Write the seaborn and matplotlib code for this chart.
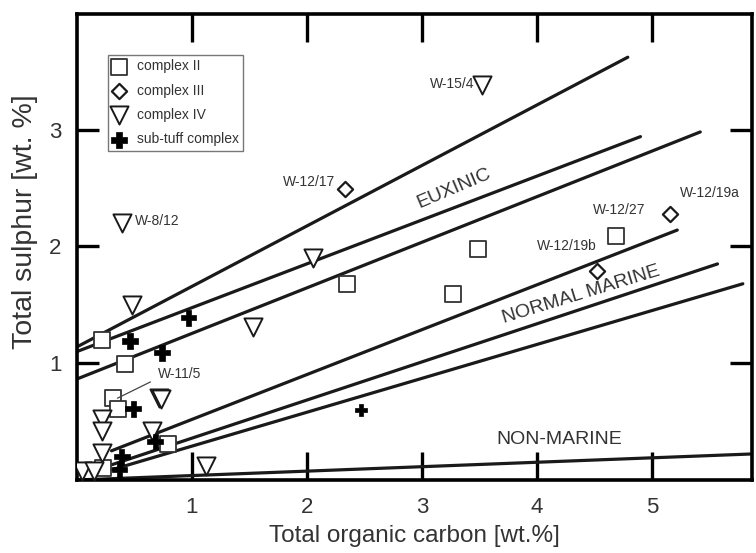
import numpy as np
import pandas as pd
import matplotlib
matplotlib.use("Agg")
import matplotlib.pyplot as plt
import seaborn as sns

# ---------------- data ----------------
c2_x = [0.22, 0.42, 0.31, 0.36, 0.23, 0.79, 2.35, 3.49, 3.27, 4.69]
c2_y = [1.20, 0.99, 0.70, 0.61, 0.10, 0.31, 1.68, 1.98, 1.59, 2.09]

c3_x = [2.33, 5.16, 4.52]
c3_y = [2.49, 2.28, 1.79]

c4_x = [3.52, 0.39, 0.48, 2.05, 1.53, 0.71, 0.73, 0.22, 0.22, 0.22, 0.65, 0.04, 0.15, 1.12]
c4_y = [3.38, 2.20, 1.50, 1.90, 1.31, 0.70, 0.69, 0.52, 0.42, 0.23, 0.42, 0.08, 0.08, 0.12]

st_x = [0.46, 0.74, 0.97, 0.49, 0.39, 0.37, 0.68, 2.47]
st_y = [1.19, 1.09, 1.39, 0.61, 0.20, 0.09, 0.33, 0.60]
st_s = [130, 130, 130, 130, 130, 130, 130, 80]

line_id = ["L1", "L2", "L3", "L4", "L5", "L6", "L7"]
line_x0 = [0.0, 0.0, 0.0, 0.3, 0.3, 0.3, 0.0]
line_y0 = [1.14, 1.10, 0.865, 0.25, 0.13, 0.087, 0.0]
line_x1 = [4.79, 4.90, 5.42, 5.22, 5.57, 5.79, 5.87]
line_y1 = [3.62, 2.94, 2.98, 2.14, 1.85, 1.68, 0.223]

sample_labels = ["W-15/4", "W-12/17", "W-12/19a", "W-12/27", "W-12/19b", "W-8/12", "W-11/5"]
sample_lx = [3.07, 1.79, 5.24, 4.49, 4.00, 0.50, 0.70]
sample_ly = [3.39, 2.55, 2.46, 2.31, 2.00, 2.22, 0.91]

field_labels = ["EUXINIC", "NORMAL MARINE", "NON-MARINE"]
field_x = [3.28, 4.38, 4.19]
field_y = [2.50, 1.59, 0.35]
field_rot = [23, 17, 0]

x_ticks = [1, 2, 3, 4, 5]
y_ticks = [1, 2, 3]

# ---------------- style ----------------
sns.set_style("ticks")
plt.rcParams["font.family"] = ["Liberation Sans", "DejaVu Sans"]
TXT = "#333333"

fig = plt.figure(figsize=(7.56, 5.53), dpi=100)
ax = fig.add_axes([77 / 756, 1 - 480 / 553, 675 / 756, 466 / 553])

# lines
rows = []
for i, lid in enumerate(line_id):
    rows.append({"line": lid, "x": line_x0[i], "y": line_y0[i]})
    rows.append({"line": lid, "x": line_x1[i], "y": line_y1[i]})
ldf = pd.DataFrame(rows)
sns.lineplot(data=ldf, x="x", y="y", units="line", estimator=None,
             color="#1a1a1a", linewidth=2.3, ax=ax, legend=False, sort=False)

# points
sns.scatterplot(x=c2_x, y=c2_y, marker="s", s=120, color="white",
                edgecolor="#333333", linewidth=1.3, ax=ax, label="complex II", zorder=3)
sns.scatterplot(x=c3_x, y=c3_y, marker="D", s=60, color="white",
                edgecolor="#1a1a1a", linewidth=1.6, ax=ax, label="complex III", zorder=3)
sns.scatterplot(x=c4_x, y=c4_y, marker="v", s=170, color="white",
                edgecolor="#1a1a1a", linewidth=1.4, ax=ax, label="complex IV", zorder=3)
sns.scatterplot(x=st_x, y=st_y, marker="P", s=st_s, color="black",
                edgecolor="black", linewidth=0.5, ax=ax, label="sub-tuff complex", zorder=4)

# sample labels
for t, x, y in zip(sample_labels, sample_lx, sample_ly):
    ax.text(x, y, t, fontsize=10, color=TXT, ha="left", va="center")
ax.annotate("", xy=(0.33, 0.69), xytext=(0.66, 0.85),
            arrowprops=dict(arrowstyle="-", lw=0.9, color="#444444"))

# field labels
for t, x, y, r in zip(field_labels, field_x, field_y, field_rot):
    ax.text(x, y, t, fontsize=14, color=TXT, ha="center", va="center",
            rotation=r, rotation_mode="anchor")

# axes
ax.set_xlim(0, 5.87)
ax.set_ylim(0, 3.99)
ax.set_xticks(x_ticks)
ax.set_yticks(y_ticks)
ax.set_xticklabels([str(v) for v in x_ticks])
ax.set_yticklabels([str(v) for v in y_ticks])
for sp in ax.spines.values():
    sp.set_visible(True)
    sp.set_linewidth(2.6)
    sp.set_color("black")
ax.tick_params(axis="x", direction="in", length=20, width=2.4, color="black",
               top=True, bottom=True, labelsize=16, labelcolor=TXT, pad=12)
ax.tick_params(axis="y", direction="in", length=16, width=2.4, color="black",
               left=True, right=True, labelsize=16, labelcolor=TXT, pad=11)
ax.set_xlabel("Total organic carbon [wt.%]", fontsize=17.5, color=TXT, labelpad=5)
ax.set_ylabel("Total sulphur [wt. %]", fontsize=20.5, color=TXT)
ax.yaxis.set_label_coords(-0.058, 0.555)

leg = ax.legend(loc="upper left", bbox_to_anchor=(0.046, 0.912), borderaxespad=0,
                frameon=True, fancybox=False, fontsize=10, handlelength=1.0,
                handletextpad=0.8, borderpad=0.3, labelspacing=0.75,
                edgecolor="#555555")
leg.get_frame().set_linewidth(1.0)
for h, sz in zip(leg.legend_handles, [120, 60, 170, 130]):
    try:
        h.set_sizes([sz])
    except Exception:
        pass
for t in leg.get_texts():
    t.set_color(TXT)

fig.savefig("out.png", dpi=100)
